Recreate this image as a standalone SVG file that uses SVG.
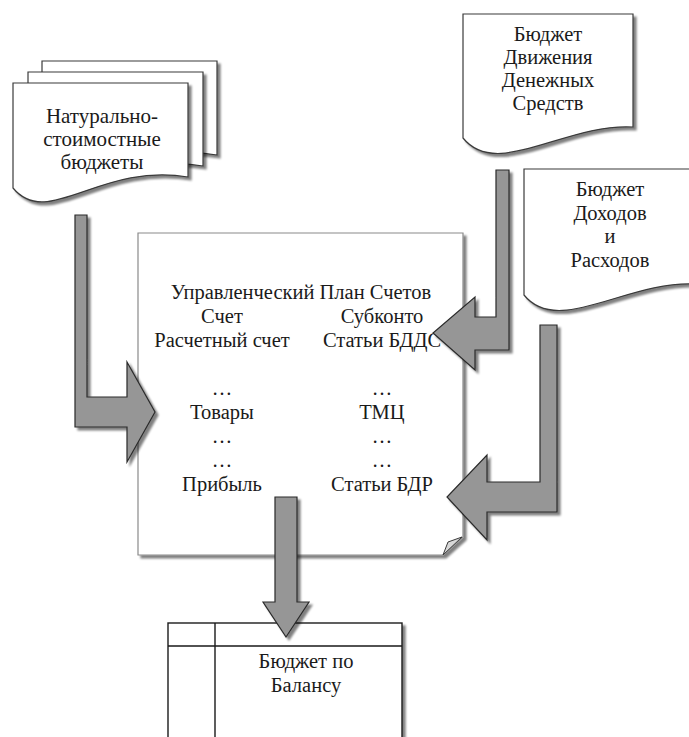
<svg xmlns="http://www.w3.org/2000/svg" width="689" height="737" viewBox="0 0 689 737">
  <defs>
    <filter id="drop" x="-10%" y="-10%" width="130%" height="130%">
      <feOffset in="SourceAlpha" dx="3" dy="3"/>
      <feGaussianBlur stdDeviation="0.8"/>
      <feComponentTransfer><feFuncA type="linear" slope="0.5"/></feComponentTransfer>
      <feMerge><feMergeNode/><feMergeNode in="SourceGraphic"/></feMerge>
    </filter>
    <path id="page" d="M13,83 L13,188 C48,230 100,162 188,177 L188,83 Z"/>
  </defs>
  <style>
    .doc { fill: #ffffff; stroke: #3a3a3a; stroke-width: 1.2; filter: url(#drop); }
    .sheet { fill: #ffffff; stroke: #8a8a8a; stroke-width: 1.2; filter: url(#drop); }
    .fold { fill: #d8d8d8; stroke: #3a3a3a; stroke-width: 1; }
    .grid { fill: #ffffff; stroke: #1a1a1a; stroke-width: 1.4; }
    .line { fill: none; stroke: #1a1a1a; stroke-width: 1.4; }
    .arrow { fill: #969696; stroke: #2a2a2a; stroke-width: 1.2; stroke-linejoin: miter; filter: url(#drop); }
    text { font-family: "Liberation Serif", "DejaVu Serif", "Times New Roman", serif; font-size: 20.5px; fill: #1a1a1a; text-anchor: middle; }
    .big { font-size: 21px; }
  </style>

  <!-- stacked documents -->
  <g id="natural-budgets">
    <use href="#page" class="doc" transform="translate(29,-22)"/>
    <use href="#page" class="doc" transform="translate(15,-11)"/>
    <use href="#page" class="doc"/>
    <text class="big" x="102" y="123">Натурально-</text>
    <text class="big" x="102" y="146">стоимостные</text>
    <text class="big" x="102" y="169">бюджеты</text>
  </g>

  <g id="cash-flow-budget">
    <path class="doc" d="M463,14 L463,138 C497,180 565,123 633,127 L633,14 Z"/>
    <text x="548" y="41">Бюджет</text>
    <text x="548" y="64">Движения</text>
    <text x="548" y="87">Денежных</text>
    <text x="548" y="110">Средств</text>
  </g>

  <g id="income-expense-budget">
    <path class="doc" d="M524,169 L524,295 C558,337 627,280 696,284 L696,169 Z"/>
    <text x="610" y="196">Бюджет</text>
    <text x="610" y="220">Доходов</text>
    <text x="610" y="243">и</text>
    <text x="610" y="267">Расходов</text>
  </g>

  <!-- chart of accounts sheet with curled corner -->
  <g id="chart-of-accounts">
    <path class="sheet" d="M138,233 H463 V537 L443,555 H138 Z"/>
    <path class="fold" d="M462,537 L448,542 L443,555 Z"/>
    <text x="301" y="299">Управленческий План Счетов</text>
    <text x="222" y="323">Счет</text>
    <text x="382" y="323">Субконто</text>
    <text x="222" y="347">Расчетный счет</text>
    <text x="382" y="347">Статьи БДДС</text>
    <text x="222" y="395">…</text>
    <text x="382" y="395">…</text>
    <text x="222" y="419">Товары</text>
    <text x="382" y="419">ТМЦ</text>
    <text x="222" y="443">…</text>
    <text x="382" y="443">…</text>
    <text x="222" y="467">…</text>
    <text x="382" y="467">…</text>
    <text x="222" y="491">Прибыль</text>
    <text x="382" y="491">Статьи БДР</text>
  </g>

  <!-- balance budget table -->
  <g id="balance-budget">
    <rect class="grid" x="168" y="623" width="234" height="130" filter="url(#drop)"/>
    <path class="line" d="M215,623 V737 M168,646 H402"/>
    <text x="306" y="668">Бюджет по</text>
    <text x="306" y="692">Балансу</text>
  </g>

  <!-- block arrows -->
  <g id="connectors">
    <path class="arrow" d="M75,215 H87 V397 H127 V362 L155,412 L127,462 V427 H75 Z"/>
    <path class="arrow" d="M496,170 H509 V350 H475 V370 L433,333 L475,297 V317 H496 Z"/>
    <path class="arrow" d="M540,325 H557 V512 H487 V540 L447,497 L487,455 V482 H540 Z"/>
    <path class="arrow" d="M275,497 H297 V602 H309 L286,637 L263,602 H275 Z"/>
  </g>
</svg>
